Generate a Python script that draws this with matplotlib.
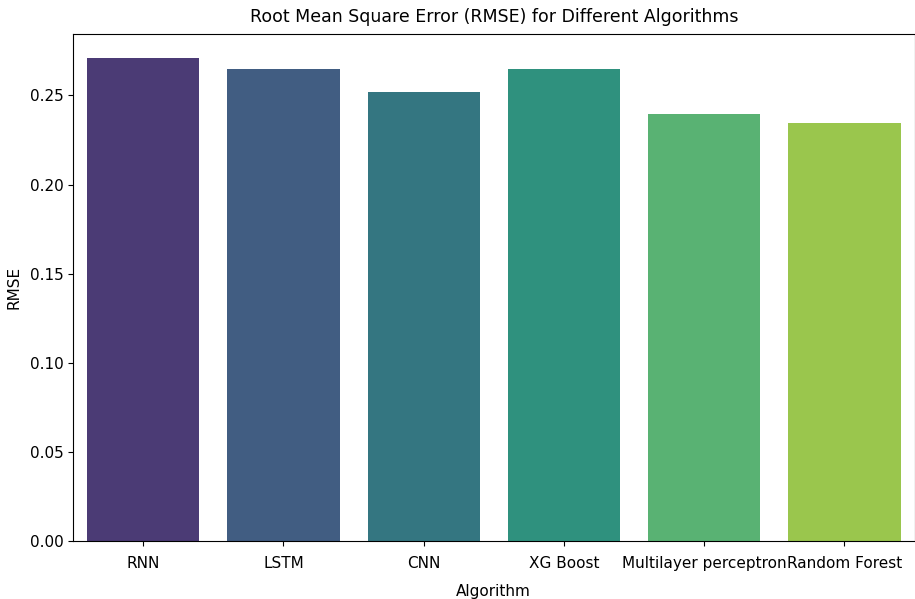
import numpy as np
import matplotlib
matplotlib.use('Agg')
import matplotlib.pyplot as plt
import seaborn as sns

algorithms = ['RNN', 'LSTM', 'CNN', 'XG Boost', 'Multilayer perceptron', 'Random Forest']
rmse = [0.2709, 0.2650, 0.2519, 0.2650, 0.2397, 0.2345]

# seaborn barplot desaturates its palette to 0.75
colors = [sns.desaturate(c, 0.75) for c in sns.color_palette('viridis', len(algorithms))]

fig = plt.figure(figsize=(9.15, 5.99), dpi=100)
ax = fig.add_axes([0.0798, 0.0968, 0.9197, 0.8464])
ax.bar(np.arange(len(algorithms)), rmse, width=0.8, color=colors)
ax.set_xticks(np.arange(len(algorithms)))
ax.set_xticklabels(algorithms, fontsize=11)
ax.set_xlim(-0.5, len(algorithms) - 0.5)
ax.set_ylim(0, max(rmse) * 1.05)
ax.tick_params(axis='x', pad=7)
ax.tick_params(axis='y', labelsize=11)
ax.set_xlabel('Algorithm', fontsize=11, labelpad=10)
ax.set_ylabel('RMSE', fontsize=11, labelpad=6)
ax.set_title('Root Mean Square Error (RMSE) for Different Algorithms', fontsize=12.5, pad=9)

fig.savefig('out.png', dpi=100)
